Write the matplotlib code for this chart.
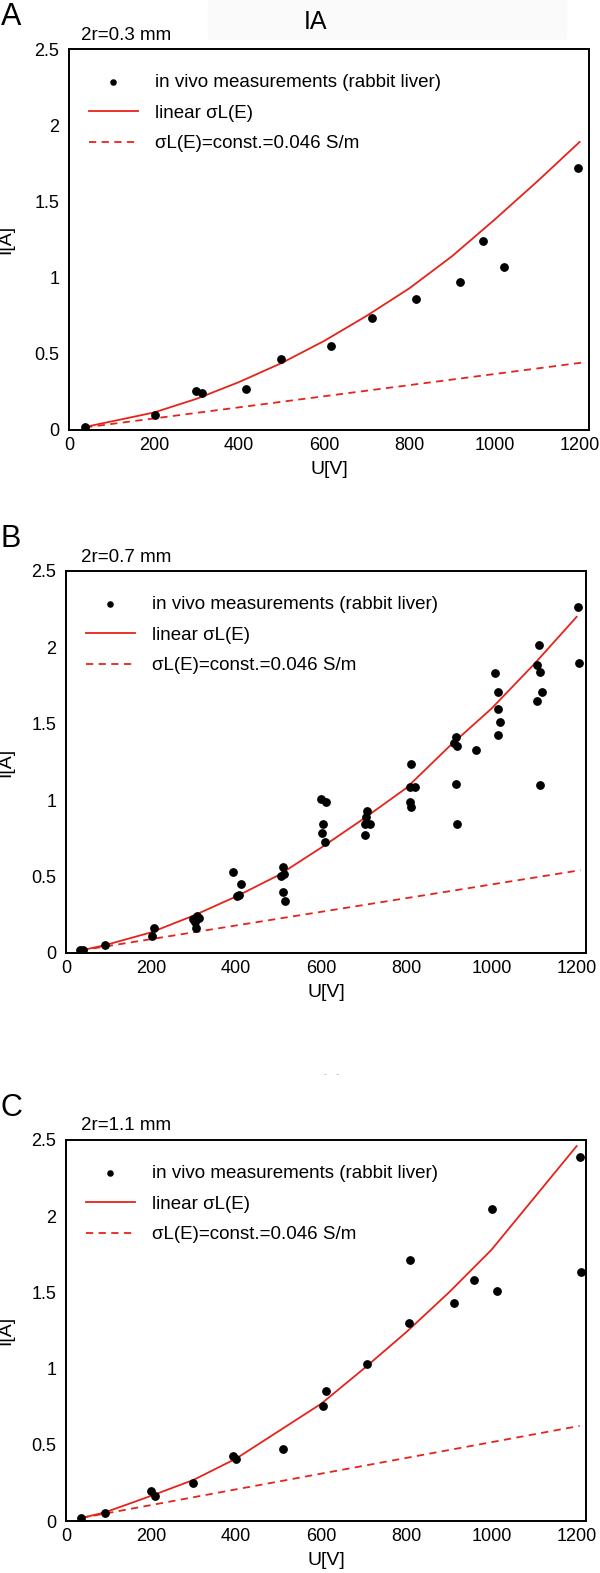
import matplotlib
matplotlib.use("Agg")
import matplotlib.pyplot as plt
from matplotlib.patches import FancyBboxPatch

plt.rcParams['font.family'] = ['Liberation Sans', 'DejaVu Sans']

# --- data ---
# panel A, 2r=0.3 mm
a_u = [38, 202, 298, 312, 415, 498, 615, 713, 815, 919, 972, 1023, 1195]
a_i = [0.017, 0.10, 0.258, 0.243, 0.269, 0.468, 0.553, 0.733, 0.862, 0.973, 1.238, 1.067, 1.72]
a_lin_u = [38, 200, 300, 400, 500, 600, 700, 800, 900, 1000, 1100, 1200]
a_lin_i = [0.02, 0.115, 0.205, 0.315, 0.44, 0.585, 0.75, 0.93, 1.14, 1.38, 1.63, 1.89]
a_const_u = [38, 1205]
a_const_i = [0.017, 0.442]

# panel B, 2r=0.7 mm
b_u = [32, 36, 40, 91, 201, 207, 298, 304, 309, 313, 305, 302,
       392, 411, 407, 402, 510, 506, 512, 510, 515,
       599, 612, 603, 601, 608, 707, 705, 703, 715, 702,
       811, 809, 821, 808, 810, 916, 911, 920, 916, 918, 964,
       1008, 1015, 1015, 1020, 1015, 1111, 1106, 1115, 1119, 1106, 1113,
       1203, 1206]
b_i = [0.017, 0.015, 0.02, 0.055, 0.11, 0.166, 0.225, 0.203, 0.24, 0.232, 0.166, 0.214,
       0.529, 0.45, 0.378, 0.372, 0.564, 0.503, 0.52, 0.40, 0.339,
       1.006, 0.991, 0.844, 0.783, 0.728, 0.932, 0.892, 0.844, 0.844, 0.770,
       1.238, 1.089, 1.085, 0.991, 0.954, 1.413, 1.373, 1.356, 1.107, 0.844, 1.330,
       1.833, 1.708, 1.597, 1.511, 1.424, 2.016, 1.883, 1.837, 1.708, 1.651, 1.098,
       2.264, 1.90]
b_lin_u = [35, 90, 200, 300, 400, 500, 600, 700, 800, 900, 1000, 1100, 1200]
b_lin_i = [0.017, 0.05, 0.135, 0.245, 0.37, 0.51, 0.69, 0.88, 1.08, 1.35, 1.6, 1.89, 2.2]
b_const_u = [35, 1209]
b_const_i = [0.017, 0.542]

# panel C, 2r=1.1 mm
c_u = [36, 92, 200, 210, 299, 393, 399, 510, 604, 612, 708, 805, 808,
       911, 959, 1000, 1012, 1207, 1210]
c_i = [0.02, 0.053, 0.195, 0.162, 0.25, 0.425, 0.409, 0.473, 0.755, 0.852, 1.027, 1.296, 1.71,
       1.432, 1.58, 2.049, 1.51, 2.39, 1.635]
c_lin_u = [36, 90, 200, 300, 400, 500, 600, 700, 800, 900, 1000, 1100, 1200]
c_lin_i = [0.02, 0.055, 0.165, 0.27, 0.41, 0.59, 0.77, 1.0, 1.24, 1.50, 1.78, 2.12, 2.46]
c_const_u = [36, 1207]
c_const_i = [0.02, 0.624]

x_ticks = [0, 200, 400, 600, 800, 1000, 1200]
y_ticks = [0, 0.5, 1, 1.5, 2, 2.5]
y_tick_labels = ['0', '0.5', '1', '1.5', '2', '2.5']

RED = '#e5231b'
W, H = 600, 1573


def fy(py):
    return 1 - py / H


fig = plt.figure(figsize=(W / 100, H / 100), dpi=100)

panels = [
    # letter, size text, axes box (left, top, right, bottom) in px, data
    ('A', '2r=0.3 mm', (69, 49, 589, 430), a_u, a_i, a_lin_u, a_lin_i, a_const_u, a_const_i),
    ('B', '2r=0.7 mm', (66, 571, 586, 953), b_u, b_i, b_lin_u, b_lin_i, b_const_u, b_const_i),
    ('C', '2r=1.1 mm', (66, 1140, 586, 1521), c_u, c_i, c_lin_u, c_lin_i, c_const_u, c_const_i),
]

for letter, size_txt, box, u, i, lu, li, cu, ci in panels:
    l, t, r, b = box
    ax = fig.add_axes([l / W, 1 - b / H, (r - l) / W, (b - t) / H])
    ax.scatter(u, i, s=28, color='black', zorder=3,
               label='in vivo measurements (rabbit liver)')
    ax.plot(lu, li, color=RED, lw=1.3, label='linear σL(E)')
    ax.plot(cu, ci, color=RED, lw=1.3, ls=(0, (4, 3)),
            label='σL(E)=const.=0.046 S/m')
    ax.set_xlim(0, 1222)
    ax.set_ylim(0, 2.5)
    ax.set_xticks(x_ticks)
    ax.set_yticks(y_ticks)
    ax.set_yticklabels(y_tick_labels)
    ax.tick_params(length=0, labelsize=13)
    ax.tick_params(axis='y', pad=7)
    ax.tick_params(axis='x', pad=5)
    for sp in ax.spines.values():
        sp.set_linewidth(1.4)
    ax.set_xlabel('U[V]', fontsize=14, labelpad=5)
    ax.set_ylabel('I[A]', fontsize=14)
    ax.yaxis.set_label_coords((14 - l) / (r - l), 0.5)
    ax.legend(loc='upper left', bbox_to_anchor=(0.038, 0.935), frameon=False,
              fontsize=13.5, scatterpoints=1, markerscale=0.7, handlelength=2.6,
              handletextpad=0.95, labelspacing=0.72, borderpad=0, borderaxespad=0)

    fig.text(11 / W, fy(t - 32), letter, fontsize=22, ha='center', va='center')
    fig.text(126 / W, fy(t - 14), size_txt, fontsize=13.5, ha='center', va='center')

# faint band behind the title
fig.patches.append(FancyBboxPatch((210 / W, fy(34)), 355 / W, 29 / H,
                                  boxstyle='round,pad=0.004', transform=fig.transFigure,
                                  facecolor='#fafafa', edgecolor='none', zorder=0))
fig.text(315 / W, fy(22), 'IA', fontsize=18, ha='center', va='center')
fig.text(331 / W, fy(1074), '-    -', fontsize=6, color='#999999', ha='center', va='center')

fig.savefig('out.png', dpi=100)
